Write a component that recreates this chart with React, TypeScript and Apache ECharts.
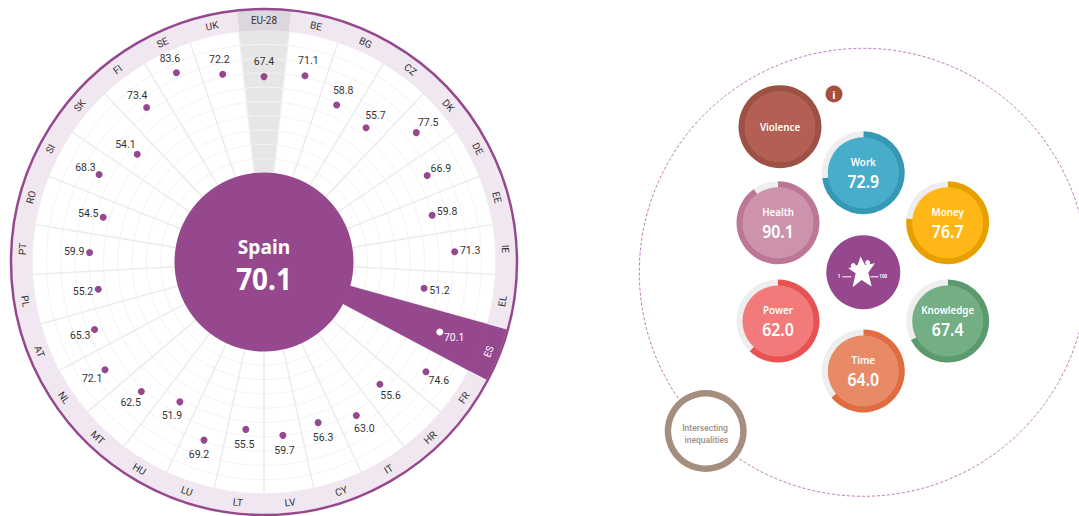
import React, { useEffect, useRef } from "react";
import * as echarts from "echarts";

const countries = ["EU-28","BE","BG","CZ","DK","DE","EE","IE","EL","ES","FR","HR","IT","CY","LV","LT","LU","HU","MT","NL","AT","PL","PT","RO","SI","SK","FI","SE","UK"];
const scores = [67.4,71.1,58.8,55.7,77.5,66.9,59.8,71.3,51.2,70.1,74.6,55.6,63.0,56.3,59.7,55.5,69.2,51.9,62.5,72.1,65.3,55.2,59.9,54.5,68.3,54.1,73.4,83.6,72.2];
const selected = "ES";
const reference = "EU-28";
const selectedName = "Spain";
const selectedScore = "70.1";

const domainNames = ["Work","Money","Knowledge","Time","Power","Health"];
const domainValues = [72.9,76.7,67.4,64.0,62.0,90.1];
const domainRing = ["#3598b5","#e5a000","#5a9a6e","#e06c3f","#e85252","#bd7796"];
const domainFill = ["#48adc9","#ffb617","#73ae85","#e88a65","#f27a7a","#cd93ad"];
const domainCenters = [[863.3,172.7],[947.7,222.7],[947.7,321],[863.3,371],[778,321],[778,222.7]];

const PURPLE = "#96488e";
const CX = 264, CY = 262;
const NUM = "'Noto Sans', sans-serif";
const TXT = "Roboto, sans-serif";

function bubble(center: number[], value: number | null, ring: string, fill: string, rOuter = 41.5, rInner = 35) {
  return [
    {
      type: "pie", center, radius: [rInner, rOuter], startAngle: 90, silent: true,
      label: { show: false }, labelLine: { show: false },
      data: value === null
        ? [{ value: 100, itemStyle: { color: ring } }]
        : [{ value, itemStyle: { color: ring } }, { value: 100 - value, itemStyle: { color: "#eeeeee" } }],
    },
    {
      type: "pie", center, radius: [0, rInner + 0.5], silent: true, labelLine: { show: false },
      itemStyle: { color: fill }, label: { show: false },
      data: [{ value: 1 }],
    },
  ];
}

function label(text: string, x: number, y: number, fontSize: number, scaleX: number, fill = "#fff", fontFamily = NUM, fontWeight: any = 600) {
  return {
    type: "text", z: 21, silent: true, x, y, scaleX,
    style: { x: 0, y: 0, text, align: "center", verticalAlign: "middle", fill, fontFamily, fontWeight, fontSize },
  };
}

export default function App() {
  const ref = useRef<HTMLDivElement>(null);
  useEffect(() => {
    document.body.style.margin = "0";
    const chart = echarts.init(ref.current!, undefined, { renderer: "svg" });
    const band = 360 / countries.length;
    const angleOf = (i: number) => (i * band * Math.PI) / 180;
    const only = (name: string) => countries.map((c) => (c === name ? 100 : null));
    const hidden = { axisLine: { show: false }, axisTick: { show: false }, axisLabel: { show: false } };

    const option: any = {
      animation: false,
      polar: [
        { center: [CX, CY], radius: [89, 232] },
        { center: [CX, CY], radius: [231.5, 252] },
      ],
      angleAxis: [
        { polarIndex: 0, type: "category", data: countries, startAngle: 90 + band / 2, boundaryGap: true, ...hidden, splitLine: { show: true, lineStyle: { color: "#ececec", width: 1.5 } }, z: 1 },
        { polarIndex: 1, type: "category", data: countries, startAngle: 90 + band / 2, boundaryGap: true, ...hidden, splitLine: { show: false } },
      ],
      radiusAxis: [
        { polarIndex: 0, type: "value", min: 0, max: 100, interval: 10, ...hidden, splitLine: { show: true, lineStyle: { color: "#f3f3f3", width: 1 } }, z: 1 },
        { polarIndex: 1, type: "value", min: 0, max: 100, ...hidden, splitLine: { show: false } },
      ],
      series: [
        { type: "bar", coordinateSystem: "polar", polarIndex: 0, stack: "band", barWidth: "100%", silent: true, z: 0, itemStyle: { color: "#e6e6e6" }, data: only(reference) },
        { type: "bar", coordinateSystem: "polar", polarIndex: 0, stack: "band", barWidth: "100%", silent: true, z: 3, itemStyle: { color: PURPLE }, data: only(selected) },
        {
          type: "bar", coordinateSystem: "polar", polarIndex: 1, barWidth: "100%", silent: true, z: 2,
          data: countries.map((c) => ({
            value: 100,
            itemStyle: { color: c === selected ? PURPLE : c === reference ? "#dcd6dd" : "#f0e7f1" },
          })),
        },
        {
          type: "scatter", coordinateSystem: "polar", polarIndex: 0, symbolSize: 7, silent: true, z: 5,
          data: scores.map((s, i) => {
            const a = angleOf(i);
            const isSel = countries[i] === selected;
            return {
              value: [s, i],
              itemStyle: { color: isSel ? "#ffffff" : PURPLE, opacity: 1 },
              label: {
                show: true, position: "inside", align: "center", verticalAlign: "middle",
                formatter: s.toFixed(1), fontFamily: TXT, fontSize: 10.5,
                color: isSel ? "#ffffff" : "#333333",
                offset: [Math.sin(a) * 15.5, -Math.cos(a) * 15.5],
              },
            };
          }),
        },
        {
          type: "custom", coordinateSystem: "polar", polarIndex: 1, silent: true, z: 6,
          data: countries.map((c, i) => [50, i]),
          renderItem: (params: any, api: any) => {
            const i = api.value(1);
            const p = api.coord([api.value(0), i]);
            const deg = i * band;
            const rotate = deg > 90 && deg < 270 ? 180 - deg : deg >= 270 ? 360 - deg : -deg;
            return {
              type: "text", x: p[0], y: p[1], rotation: (rotate * Math.PI) / 180,
              style: {
                x: 0, y: 0, text: countries[i], align: "center", verticalAlign: "middle",
                fontFamily: TXT, fontSize: 10, fill: countries[i] === selected ? "#ffffff" : "#333333",
              },
            };
          },
        },
        ...domainNames.flatMap((n, i) => bubble(domainCenters[i], domainValues[i], domainRing[i], domainFill[i])),
        ...bubble([780, 126.7], null, "#9d5145", "#b45f53"),
        ...bubble([705.7, 431], null, "#a58e7e", "#ffffff", 41, 34),
      ],
      graphic: [
        { type: "circle", z: 1, silent: true, shape: { cx: 863.3, cy: 272.3, r: 224 }, style: { fill: "none", stroke: "#bb78b4", lineWidth: 1, lineDash: [3, 2] } },
        { type: "circle", z: 20, silent: true, shape: { cx: CX, cy: CY, r: 253 }, style: { fill: "none", stroke: PURPLE, lineWidth: 2.5 } },
        { type: "circle", z: 20, silent: true, shape: { cx: CX, cy: CY, r: 89.5 }, style: { fill: PURPLE } },
        label(selectedName, CX, 246, 20, 0.96, "#fff", NUM, 700),
        label(selectedScore, CX, 278, 31, 0.9, "#fff", NUM, 700),
        ...domainNames.flatMap((n, i) => [
          label(n, domainCenters[i][0], domainCenters[i][1] - 11, 11.5, 0.85),
          label(domainValues[i].toFixed(1), domainCenters[i][0], domainCenters[i][1] + 8.5, 18.5, 0.86),
        ]),
        label("Violence", 780, 126.2, 11.5, 0.85),
        label("Intersecting", 705, 427.5, 9, 0.95, "#a08d7e", TXT, 500),
        label("inequalities", 706.5, 440, 9, 0.95, "#a08d7e", TXT, 500),
        { type: "circle", z: 20, silent: true, shape: { cx: 834, cy: 94, r: 8.5 }, style: { fill: "#a5503f" } },
        label("i", 834, 94, 11, 1, "#fff", NUM, 700),
        { type: "circle", z: 20, silent: true, shape: { cx: 863.3, cy: 272.3, r: 37 }, style: { fill: PURPLE } },
        {
          type: "group", x: 863.3, y: 272.3, z: 21, silent: true,
          children: [
            { type: "polygon", z: 21, shape: { points: [[-2.7,-15.7],[1.7,-7.3],[11.7,-9],[5,0.3],[8.3,14.3],[-1.7,7.7],[-10.7,15],[-7.7,1],[-15,-4],[-5.7,-7.3]] }, style: { fill: "#fff" } },
            { type: "circle", z: 21, shape: { cx: -10, cy: -6.7, r: 2.5 }, style: { fill: "#fff" } },
            { type: "circle", z: 21, shape: { cx: 4.3, cy: -9.7, r: 2.5 }, style: { fill: "#fff" } },
            { type: "line", z: 21, shape: { x1: -21, y1: 4.5, x2: -12, y2: 4.5 }, style: { stroke: "#fff", lineWidth: 1 } },
            { type: "line", z: 21, shape: { x1: 7, y1: 4.5, x2: 15, y2: 4.5 }, style: { stroke: "#fff", lineWidth: 1 } },
            { type: "text", z: 21, style: { x: -23, y: 4.5, text: "1", align: "right", verticalAlign: "middle", fill: "#fff", fontFamily: TXT, fontSize: 4.5, fontWeight: 700 } },
            { type: "text", z: 21, style: { x: 16, y: 4.5, text: "100", align: "left", verticalAlign: "middle", fill: "#fff", fontFamily: TXT, fontSize: 4.5, fontWeight: 700 } },
          ],
        },
      ],
    };
    chart.setOption(option);
    return () => chart.dispose();
  }, []);
  return <div ref={ref} style={{ position: "fixed", left: 0, top: 0, width: 1079, height: 516, background: "#fff" }} />;
}
